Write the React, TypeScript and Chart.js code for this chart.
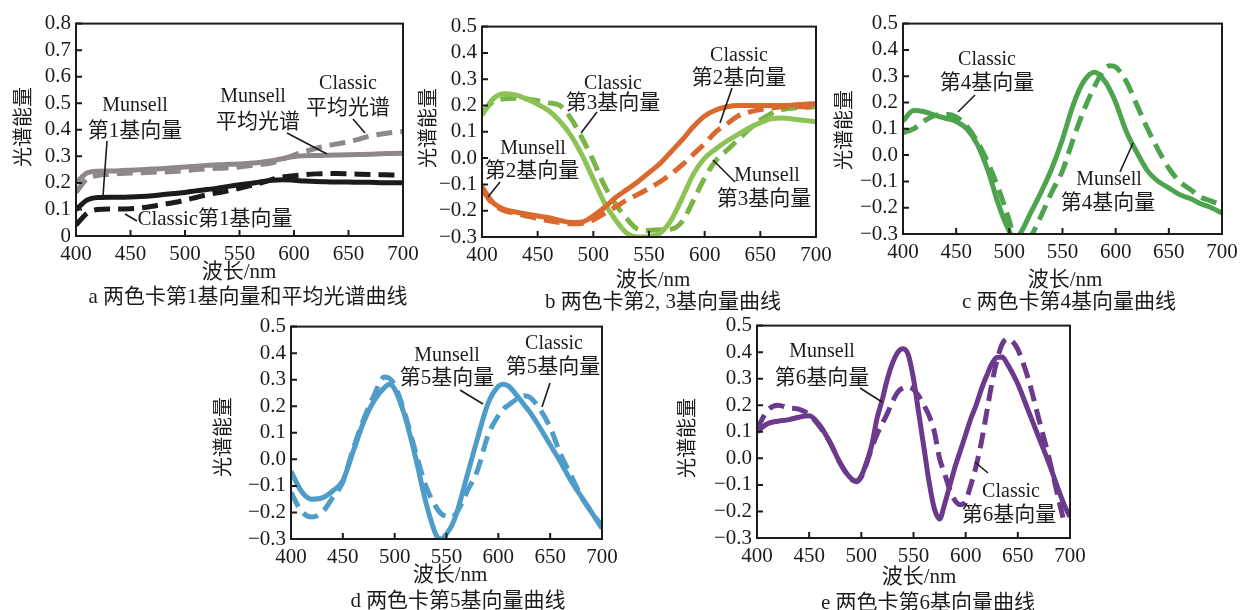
import React, { useEffect, useRef } from 'react';
import { Chart, registerables } from 'chart.js';

Chart.register(...registerables);

// ---------------- data ----------------
const xTickValues = [400, 450, 500, 550, 600, 650, 700];
const xTickLabels = ['400', '450', '500', '550', '600', '650', '700'];

const yTickValuesA = [0, 0.1, 0.2, 0.3, 0.4, 0.5, 0.6, 0.7, 0.8];
const yTickLabelsA = ['0', '0.1', '0.2', '0.3', '0.4', '0.5', '0.6', '0.7', '0.8'];
const yTickValuesB = [-0.3, -0.2, -0.1, 0, 0.1, 0.2, 0.3, 0.4, 0.5];
const yTickLabelsB = ['\u22120.3', '\u22120.2', '\u22120.1', '0.0', '0.1', '0.2', '0.3', '0.4', '0.5'];

const nmGridAB = [400, 410, 420, 430, 440, 450, 460, 470, 480, 490, 500, 510, 520, 530, 540, 550, 560, 570, 580, 590, 600, 610, 620, 630, 640, 650, 660, 670, 680, 690, 700];

// panel a
const munsellMeanA = [0.20, 0.237, 0.244, 0.245, 0.246, 0.248, 0.25, 0.252, 0.254, 0.257, 0.26, 0.263, 0.266, 0.268, 0.27, 0.271, 0.274, 0.278, 0.284, 0.292, 0.299, 0.302, 0.303, 0.304, 0.305, 0.306, 0.307, 0.308, 0.31, 0.311, 0.312];
const classicMeanA = [0.164, 0.215, 0.228, 0.232, 0.235, 0.237, 0.238, 0.24, 0.241, 0.243, 0.246, 0.25, 0.253, 0.255, 0.257, 0.26, 0.265, 0.27, 0.276, 0.29, 0.305, 0.318, 0.33, 0.34, 0.347, 0.355, 0.365, 0.377, 0.384, 0.39, 0.393];
const munsellBasis1 = [0.099, 0.135, 0.145, 0.146, 0.146, 0.147, 0.149, 0.152, 0.156, 0.16, 0.164, 0.17, 0.175, 0.18, 0.187, 0.193, 0.198, 0.204, 0.21, 0.212, 0.21, 0.207, 0.205, 0.204, 0.203, 0.203, 0.202, 0.202, 0.201, 0.201, 0.201];
const classicBasis1 = [0.041, 0.085, 0.1, 0.102, 0.102, 0.103, 0.106, 0.112, 0.12, 0.126, 0.135, 0.145, 0.155, 0.163, 0.17, 0.18, 0.19, 0.2, 0.213, 0.222, 0.227, 0.231, 0.234, 0.235, 0.235, 0.234, 0.233, 0.232, 0.231, 0.23, 0.23];

// panel b
const munsellBasis2 = [-0.11, -0.17, -0.195, -0.205, -0.212, -0.22, -0.227, -0.237, -0.245, -0.243, -0.22, -0.188, -0.15, -0.12, -0.09, -0.055, -0.02, 0.025, 0.07, 0.12, 0.16, 0.183, 0.195, 0.2, 0.2, 0.2, 0.2, 0.2, 0.202, 0.205, 0.207];
const classicBasis2 = [-0.12, -0.175, -0.2, -0.21, -0.22, -0.23, -0.238, -0.245, -0.25, -0.248, -0.235, -0.21, -0.185, -0.16, -0.138, -0.115, -0.09, -0.06, -0.025, 0.015, 0.055, 0.1, 0.13, 0.16, 0.175, 0.185, 0.19, 0.195, 0.195, 0.195, 0.195];
const munsellBasis3 = [0.164, 0.225, 0.245, 0.24, 0.225, 0.205, 0.18, 0.14, 0.085, 0.01, -0.08, -0.17, -0.235, -0.285, -0.3, -0.298, -0.285, -0.235, -0.15, -0.06, 0.0, 0.035, 0.065, 0.09, 0.115, 0.135, 0.15, 0.152, 0.148, 0.143, 0.139];
const classicBasis3 = [0.17, 0.215, 0.226, 0.228, 0.225, 0.218, 0.21, 0.2, 0.15, 0.075, -0.01, -0.105, -0.175, -0.23, -0.27, -0.275, -0.272, -0.27, -0.24, -0.16, -0.075, -0.01, 0.03, 0.07, 0.11, 0.145, 0.17, 0.185, 0.19, 0.193, 0.195];

// panel c
const nmGridC = [400, 410, 420, 430, 440, 450, 460, 470, 480, 490, 500, 505, 510, 520, 530, 540, 550, 560, 570, 580, 590, 595, 600, 610, 620, 630, 640, 650, 660, 670, 680, 690, 700];
const munsellBasis4 = [0.13, 0.17, 0.165, 0.152, 0.14, 0.128, 0.1, 0.04, -0.06, -0.19, -0.29, -0.32, -0.3, -0.22, -0.14, -0.05, 0.06, 0.19, 0.28, 0.315, 0.28, 0.245, 0.2, 0.09, 0.01, -0.06, -0.1, -0.125, -0.15, -0.165, -0.185, -0.2, -0.22];
const classicBasis4 = [0.085, 0.1, 0.13, 0.15, 0.155, 0.145, 0.11, 0.05, -0.03, -0.13, -0.25, -0.32, -0.35, -0.31, -0.23, -0.14, -0.06, 0.06, 0.17, 0.26, 0.33, 0.34, 0.335, 0.28, 0.19, 0.1, 0.02, -0.05, -0.1, -0.13, -0.16, -0.175, -0.19];

// panel d
const nmGridD = [400, 410, 420, 430, 440, 450, 460, 470, 480, 490, 495, 500, 510, 520, 530, 540, 545, 550, 555, 560, 570, 580, 590, 600, 605, 610, 620, 625, 630, 640, 650, 660, 670, 680, 690, 700];
const munsellBasis5 = [-0.045, -0.12, -0.15, -0.145, -0.12, -0.08, 0.03, 0.14, 0.22, 0.27, 0.283, 0.265, 0.16, 0.01, -0.16, -0.285, -0.3, -0.28, -0.25, -0.2, -0.06, 0.08, 0.21, 0.275, 0.283, 0.275, 0.23, 0.205, 0.18, 0.12, 0.055, -0.01, -0.08, -0.14, -0.2, -0.26];
const classicBasis5 = [-0.125, -0.195, -0.217, -0.2, -0.145, -0.085, 0.04, 0.15, 0.24, 0.31, 0.305, 0.28, 0.17, 0.03, -0.1, -0.18, -0.205, -0.215, -0.218, -0.2, -0.12, -0.04, 0.09, 0.165, 0.19, 0.205, 0.232, 0.24, 0.235, 0.19, 0.12, 0.02, -0.06, -0.14, -0.2, -0.25];

// panel e
const nmGridE = [400, 410, 420, 430, 440, 450, 460, 470, 480, 490, 495, 500, 505, 510, 515, 520, 525, 530, 535, 540, 545, 550, 555, 560, 565, 570, 575, 580, 585, 590, 595, 600, 605, 610, 615, 620, 625, 630, 635, 640, 645, 650, 660, 670, 680, 690, 695, 700];
const munsellBasis6 = [0.1, 0.13, 0.14, 0.145, 0.155, 0.16, 0.125, 0.06, -0.02, -0.075, -0.085, -0.065, -0.015, 0.05, 0.15, 0.22, 0.3, 0.36, 0.4, 0.413, 0.39, 0.3, 0.17, 0.04, -0.09, -0.19, -0.228, -0.17, -0.1, -0.03, 0.03, 0.09, 0.15, 0.2, 0.26, 0.31, 0.355, 0.38, 0.382, 0.355, 0.32, 0.28, 0.18, 0.08, -0.02, -0.13, -0.18, -0.22];
const classicBasis6 = [0.11, 0.18, 0.2, 0.19, 0.185, 0.165, 0.12, 0.06, -0.02, -0.078, -0.088, -0.07, -0.02, 0.04, 0.09, 0.13, 0.17, 0.215, 0.25, 0.265, 0.27, 0.26, 0.235, 0.2, 0.16, 0.1, 0.0, -0.06, -0.12, -0.16, -0.175, -0.16, -0.1, -0.03, 0.06, 0.17, 0.28, 0.37, 0.43, 0.45, 0.44, 0.41, 0.3, 0.15, 0.0, -0.17, -0.25, null];

// ---------------- styling ----------------
const TEXT = '#1e1a1b';
const GRAY = '#8e8888';
const BLACK = '#1c1a1a';
const ORANGE = '#d9692f';
const LIGHT_GREEN = '#8dc356';
const DARK_LIGHT_GREEN = '#79b444';
const GREEN = '#4ea44e';
const BLUE = '#4f9cc9';
const PURPLE = '#6b3a8c';

const AX_W = 60;
const AX_H = 36;
const PAD_T = 14;
const PAD_R = 22;
const SERIF = '"Liberation Serif", "Times New Roman", serif';
const MIXED = '"Liberation Serif", "Noto Sans CJK SC", serif';
const DASH = [16, 8];
const LW = 5;

type Series = { values: (number | null)[]; color: string; dashed: boolean; width: number };
type PanelSpec = {
  L: number; T: number; R: number; B: number;
  grid: number[]; series: Series[];
  yMin: number; yMax: number; yTicks: number[]; yLabels: string[];
};

const panels: PanelSpec[] = [
  {
    L: 76, T: 20, R: 403, B: 236, grid: nmGridAB, yMin: 0, yMax: 0.8, yTicks: yTickValuesA, yLabels: yTickLabelsA,
    series: [
      { values: munsellMeanA, color: GRAY, dashed: false, width: LW },
      { values: classicMeanA, color: GRAY, dashed: true, width: LW },
      { values: munsellBasis1, color: BLACK, dashed: false, width: LW },
      { values: classicBasis1, color: BLACK, dashed: true, width: LW },
    ],
  },
  {
    L: 482, T: 23, R: 816, B: 237, grid: nmGridAB, yMin: -0.3, yMax: 0.5, yTicks: yTickValuesB, yLabels: yTickLabelsB,
    series: [
      { values: munsellBasis2, color: ORANGE, dashed: false, width: LW },
      { values: classicBasis2, color: ORANGE, dashed: true, width: LW },
      { values: munsellBasis3, color: LIGHT_GREEN, dashed: false, width: LW },
      { values: classicBasis3, color: DARK_LIGHT_GREEN, dashed: true, width: LW },
    ],
  },
  {
    L: 903, T: 20, R: 1222, B: 234, grid: nmGridC, yMin: -0.3, yMax: 0.5, yTicks: yTickValuesB, yLabels: yTickLabelsB,
    series: [
      { values: munsellBasis4, color: GREEN, dashed: false, width: LW },
      { values: classicBasis4, color: GREEN, dashed: true, width: LW },
    ],
  },
  {
    L: 291, T: 323, R: 602, B: 539, grid: nmGridD, yMin: -0.3, yMax: 0.5, yTicks: yTickValuesB, yLabels: yTickLabelsB,
    series: [
      { values: munsellBasis5, color: BLUE, dashed: false, width: LW },
      { values: classicBasis5, color: BLUE, dashed: true, width: LW },
    ],
  },
  {
    L: 757, T: 322, R: 1070, B: 538, grid: nmGridE, yMin: -0.3, yMax: 0.5, yTicks: yTickValuesB, yLabels: yTickLabelsB,
    series: [
      { values: munsellBasis6, color: PURPLE, dashed: false, width: LW },
      { values: classicBasis6, color: PURPLE, dashed: true, width: LW },
    ],
  },
];

// annotation texts (page positions) and leader lines
type Note = { x: number; y: number; text: string; size: number; rot?: boolean };
const notes: Note[] = [
  // panel a
  { x: 135, y: 104, text: 'Munsell', size: 20 },
  { x: 135, y: 130, text: '第1基向量', size: 21 },
  { x: 253, y: 95, text: 'Munsell', size: 20 },
  { x: 258, y: 121, text: '平均光谱', size: 21 },
  { x: 348, y: 82, text: 'Classic', size: 20 },
  { x: 348, y: 107, text: '平均光谱', size: 21 },
  { x: 215, y: 218, text: 'Classic第1基向量', size: 21 },
  { x: 239, y: 271, text: '波长/nm', size: 21 },
  { x: 248, y: 296, text: 'a 两色卡第1基向量和平均光谱曲线', size: 21 },
  { x: 23, y: 127, text: '光谱能量', size: 20, rot: true },
  // panel b
  { x: 613, y: 82, text: 'Classic', size: 20 },
  { x: 613, y: 102, text: '第3基向量', size: 21 },
  { x: 533, y: 147, text: 'Munsell', size: 20 },
  { x: 532, y: 170, text: '第2基向量', size: 21 },
  { x: 739, y: 54, text: 'Classic', size: 20 },
  { x: 739, y: 77, text: '第2基向量', size: 21 },
  { x: 767, y: 174, text: 'Munsell', size: 20 },
  { x: 764, y: 198, text: '第3基向量', size: 21 },
  { x: 653, y: 279, text: '波长/nm', size: 21 },
  { x: 663, y: 301, text: 'b 两色卡第2, 3基向量曲线', size: 21 },
  { x: 428, y: 128, text: '光谱能量', size: 20, rot: true },
  // panel c
  { x: 987, y: 58, text: 'Classic', size: 20 },
  { x: 987, y: 82, text: '第4基向量', size: 21 },
  { x: 1109, y: 178, text: 'Munsell', size: 20 },
  { x: 1108, y: 202, text: '第4基向量', size: 21 },
  { x: 1065, y: 279, text: '波长/nm', size: 21 },
  { x: 1069, y: 301, text: 'c 两色卡第4基向量曲线', size: 21 },
  { x: 844, y: 130, text: '光谱能量', size: 20, rot: true },
  // panel d
  { x: 447, y: 354, text: 'Munsell', size: 20 },
  { x: 447, y: 377, text: '第5基向量', size: 21 },
  { x: 554, y: 342, text: 'Classic', size: 20 },
  { x: 553, y: 366, text: '第5基向量', size: 21 },
  { x: 450, y: 574, text: '波长/nm', size: 21 },
  { x: 458, y: 600, text: 'd 两色卡第5基向量曲线', size: 21 },
  { x: 223, y: 437, text: '光谱能量', size: 20, rot: true },
  // panel e
  { x: 822, y: 350, text: 'Munsell', size: 20 },
  { x: 822, y: 377, text: '第6基向量', size: 21 },
  { x: 1011, y: 490, text: 'Classic', size: 20 },
  { x: 1009, y: 514, text: '第6基向量', size: 21 },
  { x: 919, y: 576, text: '波长/nm', size: 21 },
  { x: 928, y: 602, text: 'e 两色卡第6基向量曲线', size: 21 },
  { x: 687, y: 438, text: '光谱能量', size: 20, rot: true },
];

const leaders: [number, number, number, number][] = [
  [107, 141, 103, 196],
  [125, 214, 137, 221],
  [287, 133, 327, 154],
  [353, 119, 365, 133],
  [597, 112, 581, 133],
  [500, 182, 488, 197],
  [732, 88, 720, 123],
  [713, 160, 735, 182],
  [975, 95, 958, 112],
  [1133, 143, 1120, 172],
  [460, 390, 483, 404],
  [550, 383, 542, 407],
  [860, 388, 882, 402],
  [975, 462, 988, 473],
];

// ---------------- chart ----------------
const framePlugin = {
  id: 'frameTicks',
  afterDraw(chart: any) {
    const { ctx, chartArea: a, scales } = chart;
    ctx.save();
    ctx.strokeStyle = TEXT;
    ctx.lineWidth = 2;
    ctx.strokeRect(a.left, a.top, a.right - a.left, a.bottom - a.top);
    ctx.beginPath();
    scales.x.ticks.forEach((t: any) => {
      const px = scales.x.getPixelForValue(t.value);
      ctx.moveTo(px, a.bottom);
      ctx.lineTo(px, a.bottom - 6);
    });
    scales.y.ticks.forEach((t: any) => {
      const py = scales.y.getPixelForValue(t.value);
      ctx.moveTo(a.left, py);
      ctx.lineTo(a.left + 6, py);
    });
    ctx.stroke();
    ctx.restore();
  },
};

function ChartPanel({ spec }: { spec: PanelSpec }) {
  const ref = useRef<HTMLCanvasElement>(null);
  const w = spec.R - spec.L + AX_W + PAD_R;
  const h = spec.B - spec.T + PAD_T + AX_H;
  useEffect(() => {
    const canvas = ref.current;
    if (!canvas) return;
    const chart = new Chart(canvas, {
      type: 'line',
      data: {
        datasets: spec.series.map((s) => ({
          data: spec.grid.map((x, i) => ({ x, y: s.values[i] })),
          borderColor: s.color,
          backgroundColor: s.color,
          borderWidth: s.width,
          borderDash: s.dashed ? DASH : [],
          borderCapStyle: 'butt',
          borderJoinStyle: 'round',
          pointRadius: 0,
          fill: false,
          cubicInterpolationMode: 'monotone',
          spanGaps: false,
          clip: 0,
        })) as any,
      },
      options: {
        animation: false,
        responsive: false,
        maintainAspectRatio: false,
        devicePixelRatio: 1,
        events: [],
        layout: { padding: { left: 0, top: PAD_T, right: PAD_R, bottom: 0 } },
        plugins: { legend: { display: false }, tooltip: { enabled: false }, title: { display: false } },
        scales: {
          x: {
            type: 'linear',
            min: 400,
            max: 700,
            afterBuildTicks: (s: any) => { s.ticks = xTickValues.map((v) => ({ value: v })); },
            afterFit: (s: any) => { s.height = AX_H; },
            grid: { display: false, drawTicks: false },
            border: { display: false },
            ticks: {
              autoSkip: false,
              maxRotation: 0,
              padding: 6,
              color: TEXT,
              font: { family: SERIF, size: 21 },
              callback: (v: any) => xTickLabels[xTickValues.indexOf(Number(v))],
            },
          },
          y: {
            type: 'linear',
            min: spec.yMin,
            max: spec.yMax,
            afterBuildTicks: (s: any) => { s.ticks = spec.yTicks.map((v) => ({ value: v })); },
            afterFit: (s: any) => { s.width = AX_W; },
            grid: { display: false, drawTicks: false },
            border: { display: false },
            ticks: {
              autoSkip: false,
              padding: 5,
              color: TEXT,
              font: { family: SERIF, size: 21 },
              callback: (v: any) => {
                const i = spec.yTicks.findIndex((t) => Math.abs(t - Number(v)) < 1e-9);
                return i >= 0 ? spec.yLabels[i] : '';
              },
            },
          },
        },
      } as any,
      plugins: [framePlugin],
    });
    return () => chart.destroy();
  }, []);
  return (
    <canvas
      ref={ref}
      width={w}
      height={h}
      style={{ position: 'absolute', left: spec.L - AX_W, top: spec.T - PAD_T, width: w, height: h }}
    />
  );
}

export default function App() {
  return (
    <div style={{ position: 'fixed', left: 0, top: 0, width: 1242, height: 610, background: '#fff', overflow: 'hidden' }}>
      {panels.map((p, i) => <ChartPanel key={i} spec={p} />)}
      <svg width={1242} height={610} style={{ position: 'absolute', left: 0, top: 0, pointerEvents: 'none' }}>
        {leaders.map((l, i) => (
          <line key={i} x1={l[0]} y1={l[1]} x2={l[2]} y2={l[3]} stroke={TEXT} strokeWidth={1.6} />
        ))}
      </svg>
      {notes.map((n, i) => (
        <div
          key={i}
          style={{
            position: 'absolute',
            left: n.x,
            top: n.y,
            transform: n.rot ? 'translate(-50%, -50%) rotate(-90deg)' : 'translate(-50%, -50%)',
            fontFamily: MIXED,
            fontSize: n.size,
            lineHeight: 1,
            color: TEXT,
            whiteSpace: 'nowrap',
          }}
        >
          {n.text}
        </div>
      ))}
    </div>
  );
}
